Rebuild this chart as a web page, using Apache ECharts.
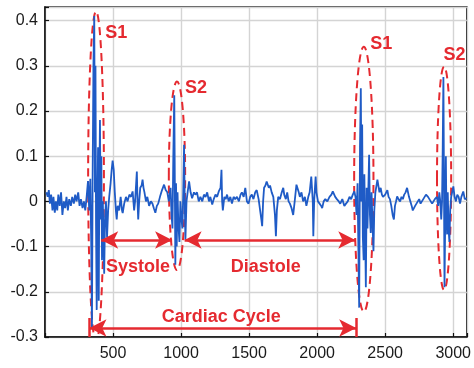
<!DOCTYPE html>
<html>
<head>
<meta charset="utf-8">
<script src="https://cdn.jsdelivr.net/npm/echarts@6/dist/echarts.min.js"></script>
<style>html,body{margin:0;background:#fff}#pcg{width:474px;height:368px}</style>
</head>
<body>
<div id="pcg"></div>
<script>
// heart sound signal, [sample, amplitude]
var signal = [
  [10,0.02],[20,0.01],[28,0.025],[36,-0.005],[45,0.015],[55,-0.02],[62,0.01],[72,-0.025],[80,0.0],[90,-0.02],
  [98,0.015],[108,-0.01],[118,0.02],[128,-0.03],[138,0.0],[148,-0.015],[158,0.01],[168,-0.02],[178,0.005],[190,-0.01],
  [200,0.01],[212,-0.005],[222,0.015],[232,0.0],[244,0.02],[254,-0.01],[264,0.005],[276,-0.015],[286,0.0],[296,-0.02],
  [306,0.01],[316,0.045],
  [325,-0.02],[333,0.05],[340,-0.1],[345,-0.28],[350,0.05],[356,0.3],[362,0.41],[367,0.02],[371,0.3],[375,-0.05],
  [380,-0.24],[385,0.0],[390,0.12],[395,-0.22],[399,0.02],[404,0.18],[409,-0.04],[414,0.1],[419,-0.13],[425,0.0],
  [430,-0.08],[435,-0.16],[441,-0.04],[448,0.0],[456,-0.08],[464,-0.02],[472,0.01],[482,0.04],[490,0.07],[497,0.09],
  [505,0.07],[513,0.02],[521,-0.02],[527,-0.04],[534,-0.01],[545,-0.02],[556,0.01],[566,-0.02],[571,-0.026],[582,-0.005],
  [595,0.01],[607,0.0],[620,0.015],[632,0.01],[644,0.022],[655,-0.02],[662,0.0],[670,0.04],[675,0.066],[680,0.0],
  [685,-0.04],[692,0.0],[700,0.03],[710,0.035],[717,0.048],[724,0.03],[731,0.02],[742,0.0],[752,0.01],[765,-0.01],
  [778,0.0],[790,-0.005],[800,-0.015],[811,-0.025],[822,-0.01],[832,-0.005],[845,0.01],[860,0.025],[875,0.037],[887,0.025],
  [899,0.02],[910,0.0],[923,0.03],
  [930,-0.03],[937,-0.06],[943,0.1],[950,0.235],[955,0.0],[958,-0.14],[963,0.04],[968,-0.1],[974,0.02],[980,-0.05],
  [988,-0.09],[995,0.0],[1003,-0.04],[1010,-0.06],[1016,0.02],[1022,0.125],[1027,0.0],[1032,-0.085],[1040,0.0],[1048,0.02],
  [1059,0.044],[1070,0.02],[1081,0.007],[1095,0.02],[1105,0.015],[1117,0.02],[1130,0.0],[1142,0.01],[1156,0.0],[1168,0.015],
  [1180,0.01],[1192,0.02],[1205,0.0],[1215,0.01],[1229,-0.007],[1240,0.005],[1253,0.015],[1265,0.01],[1277,0.022],[1290,0.03],
  [1297,0.07],[1302,0.0],[1307,-0.02],[1318,0.01],[1328,0.005],[1338,0.015],[1350,0.0],[1362,0.01],[1374,-0.005],[1386,0.01],
  [1398,0.005],[1411,0.01],[1425,0.0],[1437,0.015],[1447,0.02],[1460,0.01],[1472,0.03],[1484,0.0],[1496,-0.005],[1508,0.01],
  [1520,0.015],[1532,0.005],[1545,0.02],[1556,0.025],[1570,0.005],[1581,-0.02],[1590,-0.04],[1596,-0.055],[1603,0.0],[1610,0.03],
  [1620,0.035],[1629,0.044],[1637,0.044],[1645,0.03],[1654,0.035],[1666,0.02],[1678,0.01],[1690,-0.03],[1697,-0.077],[1704,-0.02],
  [1714,0.01],[1727,0.005],[1740,0.02],[1751,0.03],[1758,0.015],[1770,0.005],[1780,0.02],[1790,0.0],[1800,-0.005],[1812,-0.015],
  [1824,-0.03],[1835,0.0],[1848,0.037],[1855,0.04],[1865,0.02],[1873,0.01],[1885,0.02],[1897,0.0],[1910,0.01],[1921,-0.01],
  [1935,0.01],[1945,0.02],[1957,0.055],[1964,0.055],[1968,0.0],[1972,-0.077],[1978,0.0],[1989,0.055],[1995,0.02],[2006,0.0],
  [2018,-0.005],[2030,-0.01],[2037,-0.015],[2048,0.0],[2060,0.005],[2075,0.0],[2091,0.01],[2105,0.015],[2115,0.022],[2122,0.026],
  [2133,0.01],[2145,0.005],[2159,0.0],[2170,-0.005],[2185,0.005],[2200,-0.01],[2212,-0.005],[2225,0.0],[2238,0.01],[2250,0.005],
  [2262,0.015],[2273,0.022],[2282,0.01],
  [2290,-0.03],[2297,0.04],[2303,-0.1],[2309,-0.235],[2315,0.12],[2321,0.25],[2326,0.0],[2331,0.17],[2336,-0.08],[2342,-0.13],
  [2347,0.06],[2352,-0.05],[2358,-0.19],[2364,0.03],[2370,-0.06],[2376,0.02],[2382,0.103],[2388,-0.03],[2394,-0.07],[2400,0.02],
  [2406,-0.04],[2414,-0.11],[2420,-0.02],[2428,0.02],[2436,0.035],[2443,0.048],[2450,0.035],[2458,0.02],[2467,0.03],[2476,0.015],
  [2484,0.01],[2492,0.007],[2500,0.015],[2508,0.02],[2516,0.025],[2525,0.01],[2535,0.005],[2545,-0.01],[2555,-0.03],[2564,-0.04],
  [2572,-0.01],[2580,0.0],[2588,0.011],[2598,0.005],[2610,0.0],[2620,0.01],[2630,0.005],[2640,0.015],[2650,0.02],[2661,0.03],
  [2668,0.033],[2675,0.01],[2685,0.0],[2695,-0.01],[2703,-0.02],[2710,-0.022],[2720,-0.01],[2730,-0.005],[2740,0.0],[2750,0.005],
  [2760,-0.005],[2770,0.0],[2780,0.005],[2790,0.01],[2800,0.015],[2807,0.018],[2815,0.01],[2825,0.005],[2835,0.0],[2845,-0.005],
  [2855,0.0],[2865,0.005],[2880,0.01],
  [2890,-0.01],[2898,0.02],[2905,0.0],[2912,-0.04],[2918,0.0],[2923,0.12],[2928,0.275],[2932,0.05],[2936,-0.19],[2941,-0.05],
  [2946,0.1],[2950,-0.02],[2955,-0.073],[2960,0.02],[2966,-0.06],[2972,-0.09],[2978,-0.02],[2985,0.01],[2992,0.02],[3001,0.033],
  [3010,0.01],[3020,0.0],[3030,0.015],[3040,0.01],[3050,-0.005],[3060,0.01],[3074,0.022],[3085,0.005],[3100,0.007]
];

// dashed rings round the heart sounds: [centre x, centre y, half width, half height]
var soundRings = [[375,0.055,58,0.365],[970,0.0565,60,0.2085],[2343,0.049,71,0.293],[2933,0.051,52,0.247]];
var soundNames = [['S1',524,0.372],['S2',1110,0.25],['S1',2471,0.349],['S2',3009,0.323]];

// phase spans: [from, to, level]
var systole = [413,934,-0.0855];
var diastole = [1026,2280,-0.0855];
var cycle = [327,2287,-0.28];
var phaseNames = [['Systole',684,-0.145],['Diastole',1623,-0.145],['Cardiac Cycle',1295,-0.255]];

var red = '#e52a30';
var blue = '#1f5bc6';
var chart = echarts.init(document.getElementById('pcg'));

function span(s){
  return [{coord:[s[0],s[2]]},{coord:[s[1],s[2]]}];
}
function bar(x){
  return [{coord:[x,-0.258],symbol:'none'},{coord:[x,-0.3],symbol:'none'}];
}
function fmtY(v){
  var r = Math.round(v*10)/10;
  if(Math.abs(v-r)>1e-6) return '';
  return String(r);
}

chart.setOption({
  animation:false,
  // the grid border gives the closed box
  grid:{left:45,right:3,top:7,bottom:31,show:true,borderColor:'#111',borderWidth:1.5,backgroundColor:'transparent'},
  xAxis:{
    type:'value',min:0,max:3100,interval:500,
    axisLine:{show:true,onZero:false,lineStyle:{color:'#111',width:1.5}},
    axisTick:{show:true,inside:true,length:4,lineStyle:{color:'#111',width:1.2}},
    axisLabel:{fontSize:16,color:'#1a1a1a',fontFamily:'Arial',margin:9,
      formatter:function(v){return (v===0||v===3100)?'':String(v);}},
    splitLine:{show:true,lineStyle:{color:'#d4d4d4',width:1.4}}
  },
  yAxis:{
    type:'value',min:-0.3,max:0.43,interval:0.1,
    axisLine:{show:true,onZero:false,lineStyle:{color:'#111',width:1.5}},
    axisTick:{show:true,inside:true,length:4,lineStyle:{color:'#111',width:1.2}},
    axisLabel:{fontSize:16,color:'#1a1a1a',fontFamily:'Arial',margin:7,formatter:fmtY},
    splitLine:{show:true,lineStyle:{color:'#d4d4d4',width:1.4}}
  },
  series:[{
    type:'line',
    data:signal,
    showSymbol:false,
    lineStyle:{color:blue,width:1.8},
    itemStyle:{color:blue},
    markLine:{
      silent:true,
      symbol:['arrow','arrow'],
      symbolSize:[13,17],
      label:{show:false},
      lineStyle:{color:red,width:2.5,type:'solid'},
      data:[span(systole),span(diastole),span(cycle),bar(cycle[0]),bar(cycle[1])]
    }
  },{
    type:'custom',
    clip:true,
    data:soundRings,
    renderItem:function(params,api){
      var c = api.coord([api.value(0),api.value(1)]);
      var s = api.size([api.value(2),api.value(3)]);
      return {type:'ellipse',shape:{cx:c[0],cy:c[1],rx:s[0],ry:s[1]},
        style:{fill:'none',stroke:red,lineWidth:2,lineDash:[8,5]}};
    },
    z:3
  },{
    type:'custom',
    data:soundNames.concat(phaseNames).map(function(d){return [d[1],d[2]];}),
    renderItem:function(params,api){
      var d = soundNames.concat(phaseNames)[params.dataIndex];
      var p = api.coord([d[1],d[2]]);
      return {type:'text',x:p[0],y:p[1],
        style:{text:d[0],fill:red,fontSize:18,fontWeight:'bold',fontFamily:'Arial',
          align:'center',verticalAlign:'middle'}};
    },
    z:4
  }]
});
</script>
</body>
</html>
